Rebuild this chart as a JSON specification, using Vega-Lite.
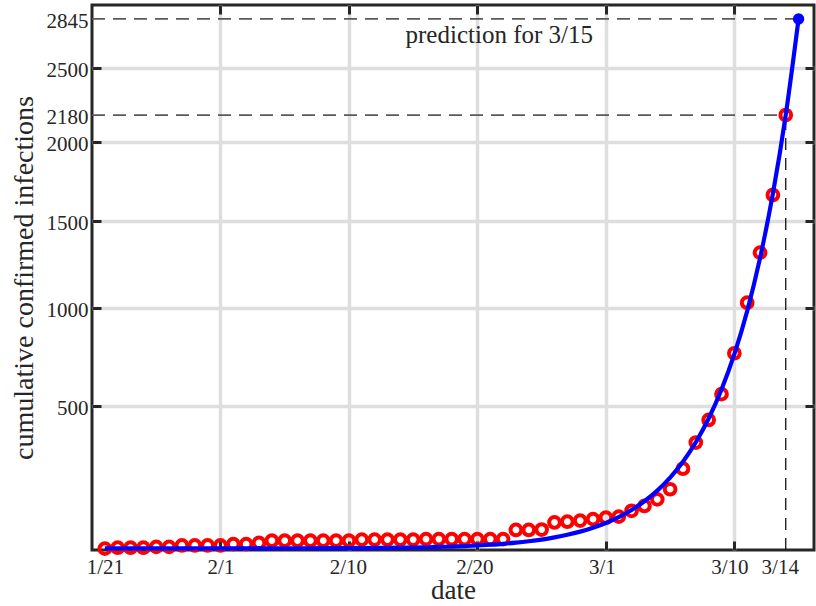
{
  "$schema": "https://vega.github.io/schema/vega-lite/v6.json",
  "width": 722,
  "height": 545,
  "autosize": {"type": "none"},
  "padding": {"left": 92, "top": 5, "right": 2, "bottom": 56},
  "background": "white",
  "config": {
    "font": "Liberation Serif",
    "view": {"stroke": "#262626", "strokeWidth": 3},
    "axis": {
      "domain": false,
      "labelFont": "Liberation Serif",
      "titleFont": "Liberation Serif",
      "labelColor": "#262626",
      "titleColor": "#262626",
      "titleFontWeight": "normal",
      "tickColor": "#262626",
      "tickWidth": 3,
      "tickSize": -9,
      "gridColor": "#dedede",
      "gridWidth": 3.5,
      "labelOverlap": false,
      "labelFlush": false
    }
  },
  "datasets": {
    "obs": [
      {"t": 1, "v": 1}, {"t": 2, "v": 2}, {"t": 3, "v": 2}, {"t": 4, "v": 2}, {"t": 5, "v": 3},
      {"t": 6, "v": 3}, {"t": 7, "v": 5}, {"t": 8, "v": 5}, {"t": 9, "v": 5}, {"t": 10, "v": 5},
      {"t": 11, "v": 7}, {"t": 12, "v": 7}, {"t": 13, "v": 9}, {"t": 14, "v": 13}, {"t": 15, "v": 13},
      {"t": 16, "v": 13}, {"t": 17, "v": 13}, {"t": 18, "v": 13}, {"t": 19, "v": 13}, {"t": 20, "v": 13},
      {"t": 21, "v": 15}, {"t": 22, "v": 15}, {"t": 23, "v": 15}, {"t": 24, "v": 15}, {"t": 25, "v": 15},
      {"t": 26, "v": 16}, {"t": 27, "v": 16}, {"t": 28, "v": 16}, {"t": 29, "v": 16}, {"t": 30, "v": 16},
      {"t": 31, "v": 16}, {"t": 32, "v": 16}, {"t": 33, "v": 36}, {"t": 34, "v": 36}, {"t": 35, "v": 37},
      {"t": 36, "v": 55}, {"t": 37, "v": 57}, {"t": 38, "v": 60}, {"t": 39, "v": 64}, {"t": 40, "v": 68},
      {"t": 41, "v": 71}, {"t": 42, "v": 88}, {"t": 43, "v": 103}, {"t": 44, "v": 124}, {"t": 45, "v": 158},
      {"t": 46, "v": 233}, {"t": 47, "v": 338}, {"t": 48, "v": 436}, {"t": 49, "v": 555}, {"t": 50, "v": 757},
      {"t": 51, "v": 1027}, {"t": 52, "v": 1313}, {"t": 53, "v": 1663}, {"t": 54, "v": 2180}
    ],
    "fit": [
      {"t": 1, "v": 1.3}, {"t": 2, "v": 1.3}, {"t": 3, "v": 1.3}, {"t": 4, "v": 1.3}, {"t": 5, "v": 1.3},
      {"t": 6, "v": 1.31}, {"t": 7, "v": 1.31}, {"t": 8, "v": 1.31}, {"t": 9, "v": 1.32}, {"t": 10, "v": 1.32},
      {"t": 11, "v": 1.32}, {"t": 12, "v": 1.33}, {"t": 13, "v": 1.34}, {"t": 14, "v": 1.35}, {"t": 15, "v": 1.37},
      {"t": 16, "v": 1.39}, {"t": 17, "v": 1.41}, {"t": 18, "v": 1.45}, {"t": 19, "v": 1.5}, {"t": 20, "v": 1.56},
      {"t": 21, "v": 1.63}, {"t": 22, "v": 1.73}, {"t": 23, "v": 1.87}, {"t": 24, "v": 2.04}, {"t": 25, "v": 2.27},
      {"t": 26, "v": 2.56}, {"t": 27, "v": 2.94}, {"t": 28, "v": 3.45}, {"t": 29, "v": 4.1}, {"t": 30, "v": 4.96},
      {"t": 31, "v": 6.1}, {"t": 32, "v": 7.5}, {"t": 33, "v": 9.4}, {"t": 34, "v": 11.9}, {"t": 35, "v": 15.1},
      {"t": 36, "v": 19.4}, {"t": 37, "v": 24.9}, {"t": 38, "v": 32.1}, {"t": 39, "v": 41.5}, {"t": 40, "v": 53.7},
      {"t": 41, "v": 69.7}, {"t": 42, "v": 90.6}, {"t": 43, "v": 117.8}, {"t": 44, "v": 153.3}, {"t": 45, "v": 199.7},
      {"t": 46, "v": 260.2}, {"t": 47, "v": 339.2}, {"t": 48, "v": 442.3}, {"t": 49, "v": 576.8}, {"t": 50, "v": 752.4},
      {"t": 51, "v": 981.6}, {"t": 52, "v": 1280.6}, {"t": 53, "v": 1670.9}, {"t": 54, "v": 2180.2}, {"t": 55, "v": 2845}
    ],
    "pred": [{"t": 55, "v": 2845}],
    "hlines": [
      {"t0": 0, "t1": 55, "v": 2845},
      {"t0": 0, "t1": 54, "v": 2180}
    ],
    "vline": [{"t": 54, "v0": 0, "v1": 2180}],
    "note": [{"t": 31.7, "v": 2677, "label": "prediction for 3/15"}]
  },
  "layer": [
    {
      "data": {"name": "hlines"},
      "mark": {"type": "rule", "color": "#5a5a5a", "strokeWidth": 1.8, "strokeDash": [13, 8]},
      "encoding": {
        "x": {"field": "t0", "type": "quantitative", "scale": {"domain": [0, 56.2], "nice": false, "zero": false}, "axis": null},
        "x2": {"field": "t1"},
        "y": {"field": "v", "type": "quantitative", "scale": {"type": "pow", "exponent": 0.75, "domain": [0, 2945], "nice": false}, "axis": null}
      }
    },
    {
      "data": {"name": "vline"},
      "mark": {"type": "rule", "color": "#111111", "strokeWidth": 1.3, "strokeDash": [12, 8]},
      "encoding": {
        "x": {"field": "t", "type": "quantitative", "axis": null},
        "y": {"field": "v0", "type": "quantitative", "axis": null},
        "y2": {"field": "v1"}
      }
    },
    {
      "data": {"name": "obs"},
      "mark": {"type": "point", "shape": "circle", "filled": false, "color": "#ff0000", "strokeWidth": 4, "size": 115, "opacity": 1},
      "encoding": {
        "x": {
          "field": "t", "type": "quantitative",
          "axis": {
            "orient": "bottom",
            "values": [1, 10, 20, 30, 40, 50, 54],
            "labelExpr": "datum.value == 1 ? '1/21' : datum.value == 10 ? '2/1' : datum.value == 20 ? '2/10' : datum.value == 30 ? '2/20' : datum.value == 40 ? '3/1' : datum.value == 50 ? '3/10' : '3/14'",
            "title": "date",
            "grid": true,
            "gridOpacity": {"condition": {"test": "datum.value == 1 || datum.value == 54", "value": 0}, "value": 1},
            "tickOpacity": {"condition": {"test": "datum.value == 1 || datum.value == 54", "value": 0}, "value": 1},
            "labelOffset": {"condition": [
              {"test": "datum.value == 20", "value": -1},
              {"test": "datum.value == 30", "value": -3},
              {"test": "datum.value == 40", "value": -4},
              {"test": "datum.value == 50", "value": -5},
              {"test": "datum.value == 54", "value": -6}
            ], "value": 0},
            "labelFontSize": 21,
            "labelPadding": 15,
            "titleFontSize": 27,
            "titlePadding": 0
          }
        },
        "y": {
          "field": "v", "type": "quantitative",
          "axis": {
            "orient": "left",
            "values": [500, 1000, 1500, 2000, 2180, 2500, 2845],
            "format": "d",
            "title": "cumulative confirmed infections",
            "grid": true,
            "gridOpacity": {"condition": {"test": "datum.value == 2180 || datum.value == 2845", "value": 0}, "value": 1},
            "tickOpacity": {"condition": {"test": "datum.value == 2180 || datum.value == 2845", "value": 0}, "value": 1},
            "labelFontSize": 21,
            "labelPadding": 13,
            "labelOffset": 2.5,
            "titleFontSize": 28,
            "titlePadding": 8
          }
        }
      }
    },
    {
      "data": {"name": "fit"},
      "mark": {"type": "line", "color": "#0000ff", "strokeWidth": 4.2, "interpolate": "monotone"},
      "encoding": {
        "x": {
          "field": "t", "type": "quantitative",
          "axis": {"orient": "top", "values": [10, 20, 30, 40, 50], "labels": false, "grid": false, "title": null}
        },
        "y": {
          "field": "v", "type": "quantitative",
          "axis": {"orient": "right", "values": [500, 1000, 1500, 2000, 2500], "labels": false, "grid": false, "title": null}
        }
      }
    },
    {
      "data": {"name": "pred"},
      "mark": {"type": "point", "shape": "circle", "filled": true, "color": "#0000ff", "size": 130, "opacity": 1},
      "encoding": {
        "x": {"field": "t", "type": "quantitative", "axis": null},
        "y": {"field": "v", "type": "quantitative", "axis": null}
      }
    },
    {
      "data": {"name": "note"},
      "mark": {"type": "text", "font": "Liberation Serif", "fontSize": 25, "color": "#262626", "align": "center", "baseline": "alphabetic"},
      "encoding": {
        "x": {"field": "t", "type": "quantitative", "axis": null},
        "y": {"field": "v", "type": "quantitative", "axis": null},
        "text": {"field": "label"}
      }
    }
  ],
  "resolve": {"axis": {"x": "independent", "y": "independent"}}
}
